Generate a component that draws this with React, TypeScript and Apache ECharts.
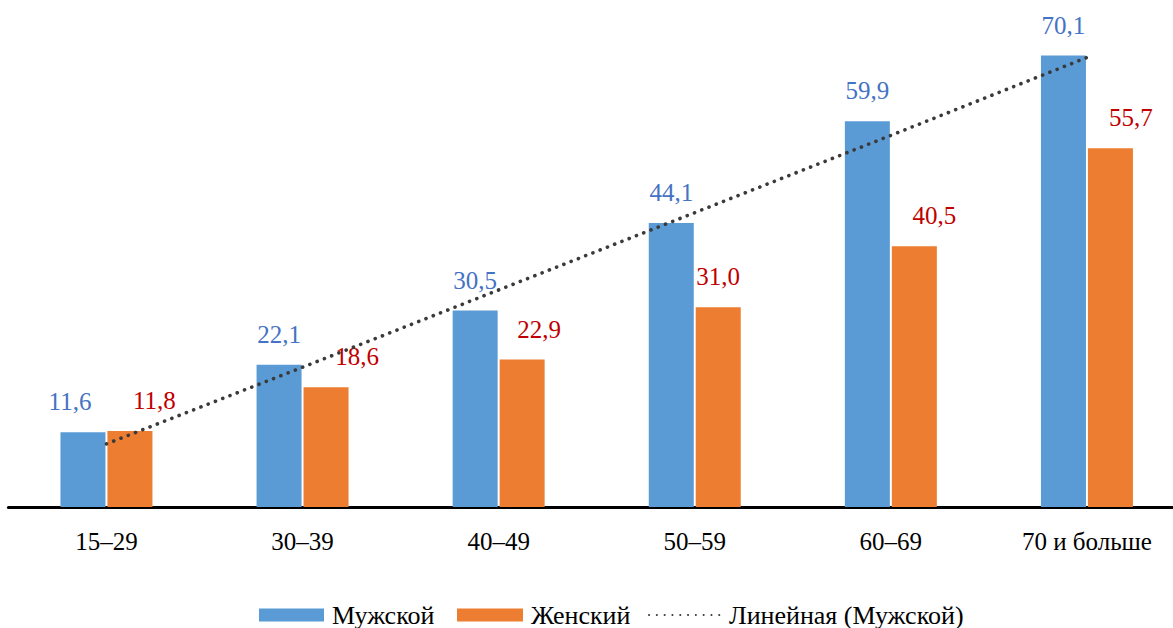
import React, { useEffect, useRef } from "react";
import * as echarts from "echarts";

const categories = ["15–29", "30–39", "40–49", "50–59", "60–69", "70 и больше"];
const male = [11.6, 22.1, 30.5, 44.1, 59.9, 70.1];
const female = [11.8, 18.6, 22.9, 31.0, 40.5, 55.7];
// trendline values at each category centre
const trend = [9.8, 21.7, 33.7, 45.7, 57.7, 69.8];

const seriesNames = ["Мужской", "Женский", "Линейная (Мужской)"];

// label horizontal shifts (styling)
const maleShift = [-13, 0, 0, 0, 0, 0];
const femaleShift = [24.5, 31, 17, 0, 20, 20.5];

const FONT = "Liberation Serif";
const fmt = (v: number) => v.toFixed(1).replace(".", ",");

export default function App() {
  const ref = useRef<HTMLDivElement>(null);
  useEffect(() => {
    if (!ref.current) return;
    const chart = echarts.init(ref.current, undefined, { renderer: "svg" });
    const labelBase = {
      show: true,
      position: "top",
      distance: 18,
      fontFamily: FONT,
      fontSize: 25,
      formatter: (p: any) => fmt(p.value),
    };
    const legendBase = {
      top: 602,
      padding: 0,
      itemHeight: 13,
      textStyle: { fontFamily: FONT, fontSize: 26, color: "#000", padding: [0, 0, 0, 3] },
    };
    chart.setOption({
      animation: false,
      backgroundColor: "#ffffff",
      grid: { left: 8.4, right: 0, top: 24, bottom: 121, containLabel: false },
      legend: [
        { ...legendBase, left: 259, itemWidth: 65, data: [{ name: seriesNames[0], icon: "rect" }] },
        { ...legendBase, left: 457, itemWidth: 66, data: [{ name: seriesNames[1], icon: "rect" }] },
        { ...legendBase, left: 648, itemWidth: 72, data: [{ name: seriesNames[2], itemStyle: { opacity: 0 } }] },
      ],
      xAxis: {
        type: "category",
        data: categories,
        axisLine: { show: true, lineStyle: { color: "#000", width: 3 } },
        axisTick: { show: false },
        axisLabel: { fontFamily: FONT, fontSize: 25, color: "#000", margin: 22, interval: 0 },
        splitLine: { show: false },
      },
      yAxis: { type: "value", min: 0, max: 75, show: false },
      series: [
        {
          name: seriesNames[0],
          type: "bar",
          barWidth: 45,
          barGap: "4.4%",
          itemStyle: { color: "#5b9bd5" },
          label: { ...labelBase, color: "#4472c4" },
          data: male.map((v, i) => ({ value: v, label: { offset: [maleShift[i], 0] } })),
        },
        {
          name: seriesNames[1],
          type: "bar",
          barWidth: 45,
          barGap: "4.4%",
          itemStyle: { color: "#ed7d31" },
          label: { ...labelBase, color: "#c00000" },
          data: female.map((v, i) => ({ value: v, label: { offset: [femaleShift[i], 0] } })),
        },
        {
          name: seriesNames[2],
          type: "line",
          data: trend,
          symbol: "none",
          silent: true,
          z: 5,
          lineStyle: { color: "#3a3a3a", width: 3.6, type: [0.1, 7.7], cap: "round" },
        },
      ],
    });
    return () => chart.dispose();
  }, []);
  return (
    <div style={{ position: "absolute", left: 0, top: 0, width: 1173, height: 628, overflow: "hidden" }}>
      <div ref={ref} style={{ width: 1185, height: 628 }} />
    </div>
  );
}
